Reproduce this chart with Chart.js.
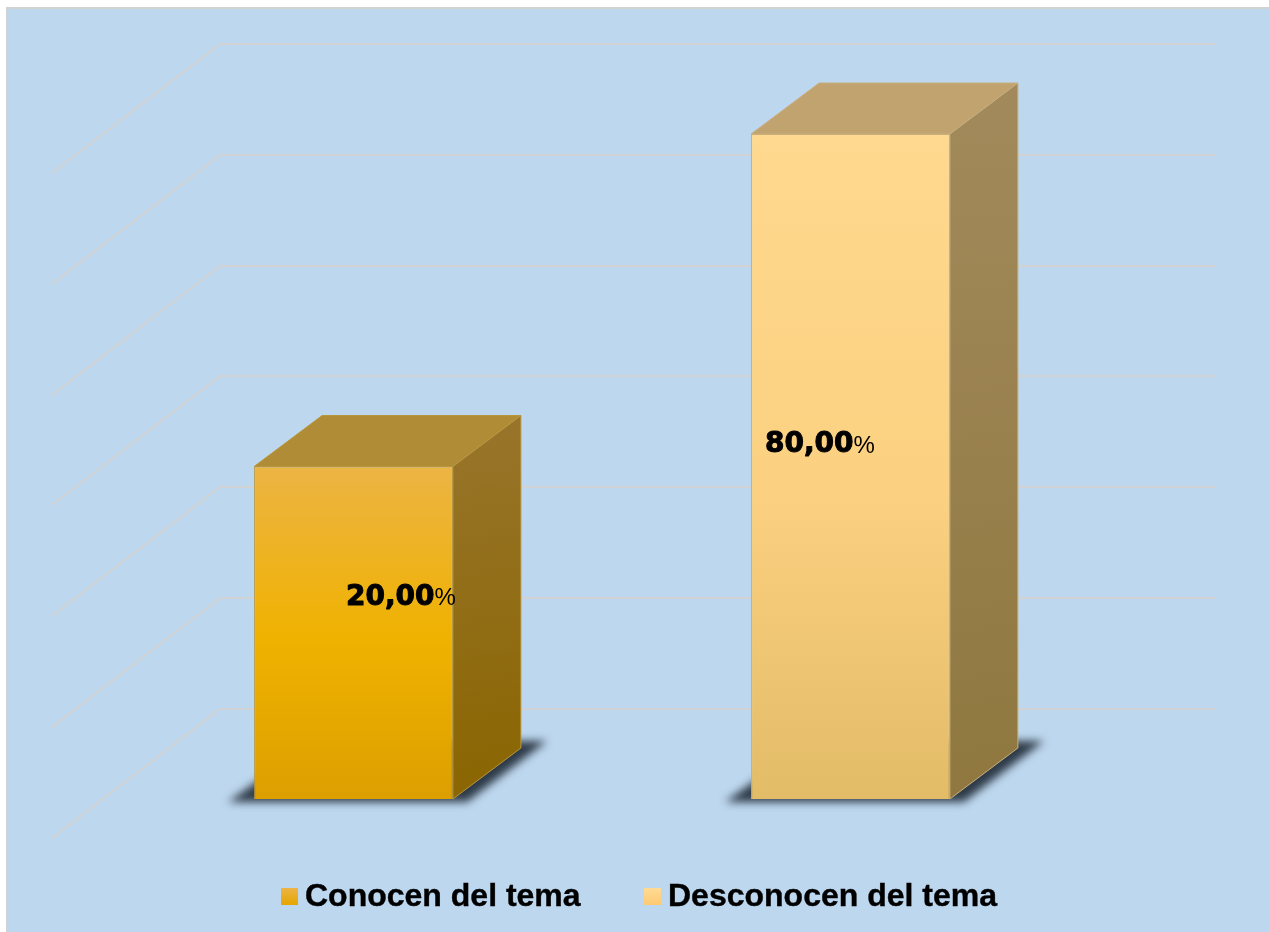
<!DOCTYPE html>
<html lang="es">
<head>
<meta charset="utf-8">
<title>Conocimiento del tema</title>
<script src="https://cdn.jsdelivr.net/npm/chart.js@4"></script>
<style>
    html, body { margin: 0; padding: 0; background: #fff; overflow: hidden; }
    #panel {
        position: absolute; left: 6px; top: 7px; width: 1263px; height: 925px;
        box-sizing: border-box; background: #BDD7EE;
        border-left: 2px solid #d2d2d2; border-top: 2px solid #d2d2d2;
    }
    #myChart { position: absolute; left: 0; top: 0; }
    .legend-item {
        position: absolute; top: 877px; height: 38px; line-height: 38px; white-space: nowrap;
        font: bold 32px "Liberation Sans", Arial, sans-serif; color: #000;
        -webkit-text-stroke: 0.4px #000;
    }
    .legend-box { position: absolute; top: 11px; left: 0; width: 17px; height: 17px; }
    .legend-text { position: absolute; left: 24px; top: 0; }
</style>
</head>
<body>
<div id="panel"></div>
<canvas id="myChart" width="1269" height="932"></canvas>
<div id="legend"></div>
<script>
const categories = ['Conocen del tema', 'Desconocen del tema'];
const values = [20, 80];
const gridValues = [5, 7.94, 12.6, 20, 31.7, 50.4, 80];

// colours per bar: front gradient, swatch, top face, side face
const frontStops = [
    [[0, '#ECB444'], [0.52, '#F0B200'], [1, '#DC9F00']],
    [[0, '#FFD98F'], [0.55, '#FBD080'], [1, '#E3BC68']]
];
const swatchColors = [['#ECB444', '#E5A500'], ['#FFDB94', '#FDC973']];
const topColors = ['#B18C36', '#C1A36F'];
const sideStops = [
    ['#98752C', '#8A6500'],
    ['#A38A5C', '#8F773F']
];
const edgeColors = ['#B8963C', '#C8AE7C'];

// depth of the boxes and of the back wall
const barDepth = { x: 68, y: -51 };
const wallDrop = 90;
const wall = { left: 220, right: 1216, frontX: 52, frontDrop: 129 };

// label position relative to the centre top of its bar
const labelOffset = [{ x: -7.5, y: 131 }, { x: -85.5, y: 311 }];

function frontGradient(chart, index) {
    const y = chart.scales.y;
    const g = chart.ctx.createLinearGradient(0, y.getPixelForValue(values[index]), 0, y.getPixelForValue(y.min));
    frontStops[index].forEach(s => g.addColorStop(s[0], s[1]));
    return g;
}

function polygon(ctx, pts) {
    ctx.beginPath();
    pts.forEach((p, i) => i ? ctx.lineTo(p[0], p[1]) : ctx.moveTo(p[0], p[1]));
    ctx.closePath();
}

// back wall lines and left wall diagonals
const wallPlugin = {
    id: 'wall',
    beforeDatasetsDraw(chart) {
        const ctx = chart.ctx;
        const y = chart.scales.y;
        ctx.save();
        ctx.strokeStyle = '#d0d2d4';
        ctx.lineWidth = 2;
        gridValues.forEach(v => {
            const py = Math.round(y.getPixelForValue(v) - wallDrop);
            ctx.beginPath();
            ctx.moveTo(wall.frontX, py + wall.frontDrop);
            ctx.lineTo(wall.left, py);
            ctx.lineTo(wall.right, py);
            ctx.stroke();
        });
        ctx.restore();
    }
};

// floor shadow, top face and side face of each bar
const boxPlugin = {
    id: 'box',
    beforeDatasetsDraw(chart) {
        const ctx = chart.ctx;
        chart.getDatasetMeta(0).data.forEach((bar, i) => {
            const half = bar.width / 2;
            const left = bar.x - half, right = bar.x + half;
            const top = bar.y, bottom = bar.base;
            const dx = barDepth.x, dy = barDepth.y;

            ctx.save();
            ctx.filter = 'blur(4px)';
            ctx.fillStyle = 'rgba(38,50,62,0.95)';
            polygon(ctx, [[left - 26, bottom + 3], [right + 14, bottom + 3], [right + 94, bottom - 58], [left + 60, bottom - 58]]);
            ctx.fill();
            ctx.restore();

            ctx.save();
            ctx.lineWidth = 1;
            ctx.strokeStyle = edgeColors[i];
            ctx.fillStyle = topColors[i];
            polygon(ctx, [[left, top], [left + dx, top + dy], [right + dx, top + dy], [right, top]]);
            ctx.fill();
            ctx.stroke();

            const g = ctx.createLinearGradient(right, top + dy, right + dx, bottom);
            g.addColorStop(0, sideStops[i][0]);
            g.addColorStop(1, sideStops[i][1]);
            ctx.fillStyle = g;
            polygon(ctx, [[right, top], [right + dx, top + dy], [right + dx, bottom + dy], [right, bottom]]);
            ctx.fill();
            ctx.stroke();
            ctx.restore();
        });
    }
};

// value labels, the number heavier than the percent sign
const labelPlugin = {
    id: 'valueLabels',
    afterDatasetsDraw(chart) {
        const ctx = chart.ctx;
        ctx.save();
        ctx.fillStyle = '#000';
        ctx.strokeStyle = '#000';
        ctx.lineWidth = 1;
        ctx.lineJoin = 'round';
        ctx.textBaseline = 'middle';
        chart.getDatasetMeta(0).data.forEach((bar, i) => {
            const text = values[i].toFixed(2).replace('.', ',');
            const x = bar.x + labelOffset[i].x;
            const y = bar.y + labelOffset[i].y;
            ctx.font = 'bold 28px "DejaVu Sans"';
            ctx.fillText(text, x, y);
            ctx.strokeText(text, x, y);
            const w = ctx.measureText(text).width;
            ctx.font = '24px "Liberation Sans"';
            ctx.fillText('%', x + w, y + 1);
        });
        ctx.restore();
    }
};

const ctx = document.getElementById('myChart').getContext('2d');
const myChart = new Chart(ctx, {
    type: 'bar',
    data: {
        labels: categories,
        datasets: [{
            data: values,
            backgroundColor: c => c.chart.chartArea ? frontGradient(c.chart, c.dataIndex) : frontStops[c.dataIndex][0][1],
            borderColor: edgeColors,
            borderWidth: 1,
            barPercentage: 0.4,
            categoryPercentage: 1
        }]
    },
    options: {
        responsive: false,
        animation: false,
        layout: { padding: { left: 105, right: 170, top: 134, bottom: 133 } },
        plugins: { legend: { display: false }, tooltip: { enabled: false } },
        scales: {
            x: { display: false },
            y: { display: false, type: 'logarithmic', min: 5, max: 80 }
        }
    },
    plugins: [wallPlugin, boxPlugin, labelPlugin]
});

// legend
const legendPos = [281, 644];
const legendEl = document.getElementById('legend');
categories.forEach((name, i) => {
    const item = document.createElement('div');
    item.className = 'legend-item';
    item.style.left = legendPos[i] + 'px';
    const box = document.createElement('div');
    box.className = 'legend-box';
    box.style.background = 'linear-gradient(' + swatchColors[i][0] + ',' + swatchColors[i][1] + ')';
    const text = document.createElement('span');
    text.className = 'legend-text';
    text.textContent = name;
    item.appendChild(box);
    item.appendChild(text);
    legendEl.appendChild(item);
});
</script>
</body>
</html>
